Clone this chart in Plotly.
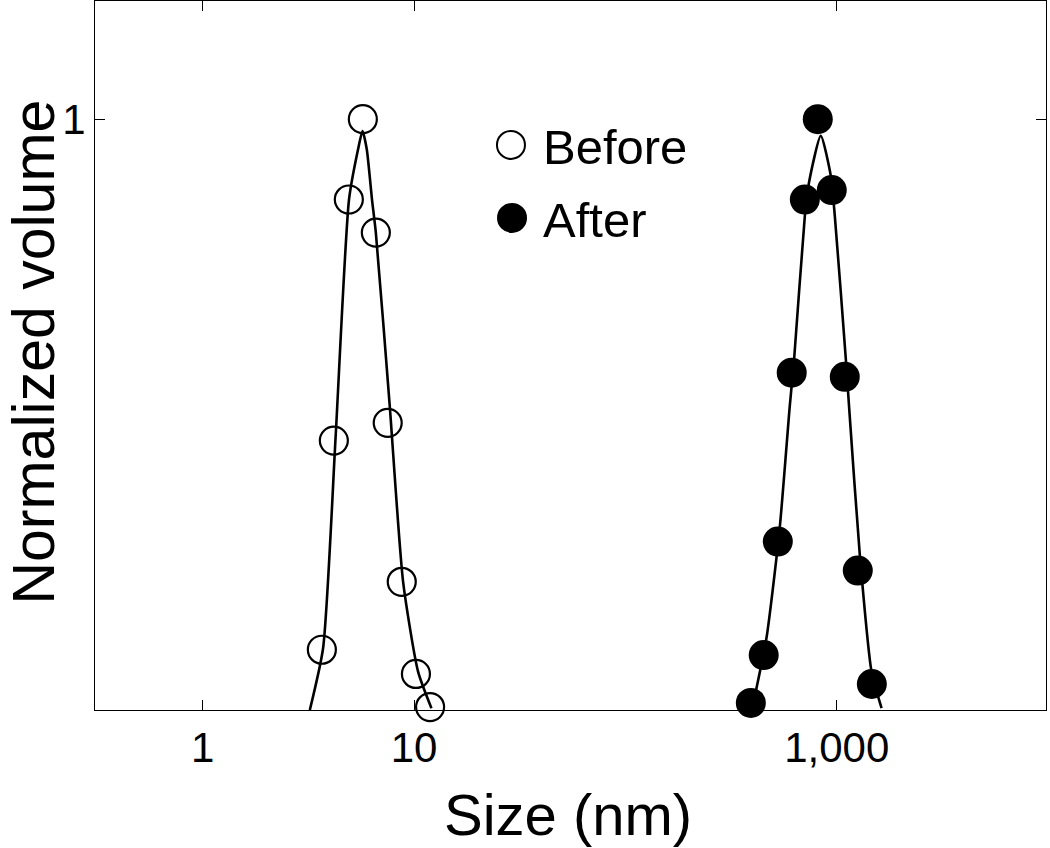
import plotly.graph_objects as go

# ---- data ----
before_size = [3.66, 4.17, 4.91, 5.72, 6.59, 7.50, 8.74, 10.2, 11.9]
before_volume = [0.102, 0.456, 0.864, 1.0, 0.808, 0.486, 0.217, 0.061, 0.005]

after_size = [392, 451, 526, 612, 706, 813, 947, 1091, 1257, 1465]
after_volume = [0.012, 0.093, 0.285, 0.571, 0.864, 1.0, 0.880, 0.564, 0.236, 0.044]

before_fit_size = [3.21, 3.71, 4.25, 4.92, 5.43, 5.70, 5.97, 6.32, 6.59, 7.67, 8.87, 10.44, 12.08]
before_fit_volume = [0.0, 0.105, 0.461, 0.864, 0.949, 0.980, 0.949, 0.864, 0.808, 0.514, 0.217, 0.065, 0.003]

after_fit_size = [396, 417, 465, 537, 599, 628, 706, 738, 840, 937, 979, 1104, 1143, 1285, 1460, 1629]
after_fit_volume = [0.0, 0.037, 0.122, 0.308, 0.514, 0.593, 0.836, 0.892, 0.972, 0.904, 0.836, 0.593, 0.514, 0.263, 0.065, 0.003]

x_tick_values = [1, 10, 1000]
x_tick_labels = ["1", "10", "1,000"]
y_tick_values = [1]
y_tick_labels = ["1"]

legend_labels = ["Before", "After"]
x_title = "Size (nm)"
y_title = "Normalized volume"

FONT = "Liberation Sans, Arial, Helvetica, sans-serif"

fig = go.Figure()

fig.add_trace(go.Scatter(
    x=before_size, y=before_volume, mode="markers",
    marker=dict(symbol="circle-open", size=28, color="black", line=dict(width=2.2, color="black")),
    cliponaxis=False, showlegend=False))
fig.add_trace(go.Scatter(
    x=after_size, y=after_volume, mode="markers",
    marker=dict(symbol="circle", size=30, color="black", line=dict(width=0)),
    cliponaxis=False, showlegend=False))
fig.add_trace(go.Scatter(
    x=before_fit_size, y=before_fit_volume, mode="lines",
    line=dict(color="black", width=2.6, shape="spline", smoothing=0.6),
    showlegend=False))
fig.add_trace(go.Scatter(
    x=after_fit_size, y=after_fit_volume, mode="lines",
    line=dict(color="black", width=2.6, shape="spline", smoothing=0.6),
    showlegend=False))

# manual legend (large symbols as in the reference)
fig.add_shape(type="circle", xref="paper", yref="paper", xsizemode="pixel", ysizemode="pixel",
              xanchor=0.4374, yanchor=0.797, x0=-14, x1=14, y0=-14, y1=14,
              line=dict(color="black", width=2), fillcolor="white")
fig.add_shape(type="circle", xref="paper", yref="paper", xsizemode="pixel", ysizemode="pixel",
              xanchor=0.4385, yanchor=0.694, x0=-15, x1=15, y0=-15, y1=15,
              line=dict(color="black", width=0), fillcolor="black")
fig.add_annotation(x=0.469, y=0.794, xref="paper", yref="paper", text=legend_labels[0],
                   showarrow=False, xanchor="left", yanchor="middle",
                   font=dict(family=FONT, size=49, color="black"))
fig.add_annotation(x=0.469, y=0.691, xref="paper", yref="paper", text=legend_labels[1],
                   showarrow=False, xanchor="left", yanchor="middle",
                   font=dict(family=FONT, size=49, color="black"))

# axis titles placed as annotations for exact positioning
fig.add_annotation(x=0.497, y=-0.148, xref="paper", yref="paper", text=x_title,
                   showarrow=False, xanchor="center", yanchor="middle",
                   font=dict(family=FONT, size=58, color="black"))
fig.add_annotation(x=-0.0645, y=0.505, xref="paper", yref="paper", text=y_title,
                   showarrow=False, xanchor="center", yanchor="middle", textangle=-90,
                   font=dict(family=FONT, size=59, color="black"))

fig.update_layout(
    width=1050, height=848,
    margin=dict(l=95, r=4, t=1, b=138),
    paper_bgcolor="white", plot_bgcolor="white",
    font=dict(family=FONT, color="black"),
    showlegend=False,
)
fig.update_xaxes(
    type="log", range=[-0.51, 3.99], automargin=False,
    tickmode="array", tickvals=x_tick_values, ticktext=x_tick_labels,
    ticks="inside", ticklen=10, tickwidth=1, tickcolor="black",
    showline=True, linecolor="black", linewidth=1.2, mirror="ticks",
    showgrid=False, zeroline=False,
    tickfont=dict(family=FONT, size=42, color="black"),
    ticklabelstandoff=0,
)
fig.update_yaxes(
    range=[0, 1.2], automargin=False,
    tickmode="array", tickvals=y_tick_values, ticktext=y_tick_labels,
    ticks="inside", ticklen=10, tickwidth=1, tickcolor="black",
    showline=True, linecolor="black", linewidth=1.2, mirror="ticks",
    showgrid=False, zeroline=False,
    tickfont=dict(family=FONT, size=42, color="black"),
    ticklabelstandoff=0,
)

fig.write_html("out.html", config={"displayModeBar": False},
               post_script="document.body.style.margin='0';")
